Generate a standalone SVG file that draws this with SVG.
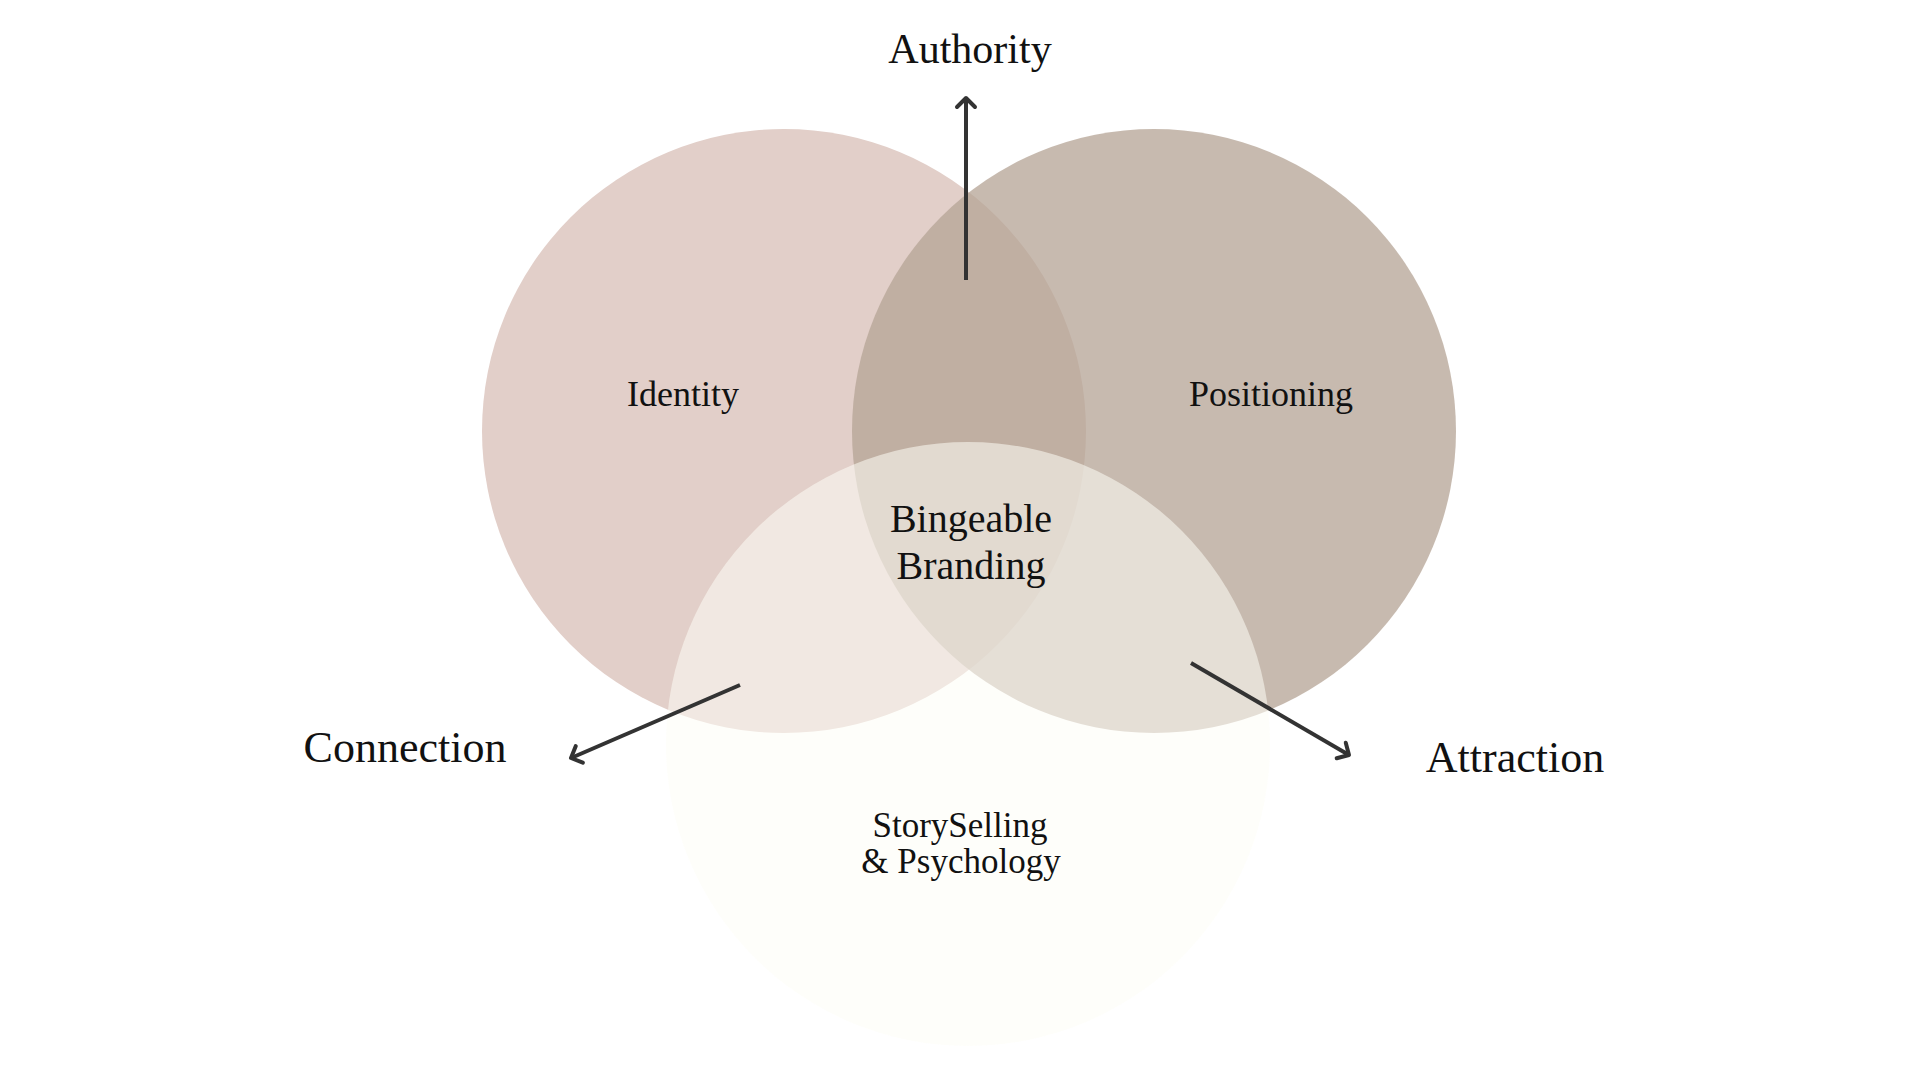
<svg xmlns="http://www.w3.org/2000/svg" width="1920" height="1080" viewBox="0 0 1920 1080">
<style>
.lbl{font-family:"Liberation Serif","DejaVu Serif",serif;fill:#111;text-anchor:middle}
.conn{stroke:#333;stroke-width:4;fill:none;stroke-linecap:butt}
</style>
<defs>
<marker id="arr" markerUnits="userSpaceOnUse" markerWidth="24" markerHeight="24" refX="12" refY="12" orient="auto" viewBox="0 0 24 24">
<polyline points="3,3 12,12 3,21" fill="none" stroke="#333" stroke-width="4" stroke-linecap="round" stroke-linejoin="round"/>
</marker>
</defs>
<rect width="1920" height="1080" fill="#fff"/>
<g id="identity">
<circle cx="784" cy="431" r="302" fill="#e2cfc9"/>
</g>
<g id="positioning">
<circle cx="1154" cy="431" r="302" fill="rgb(181,164,150)" fill-opacity="0.76"/>
</g>
<g id="storyselling">
<circle cx="968" cy="744" r="302" fill="rgb(253,253,246)" fill-opacity="0.55"/>
</g>
<g id="connectors">
<line class="conn" x1="966" y1="280" x2="966" y2="98" marker-end="url(#arr)"/>
<line class="conn" x1="740" y1="685" x2="571" y2="758" marker-end="url(#arr)"/>
<line class="conn" x1="1191" y1="663" x2="1349" y2="755" marker-end="url(#arr)"/>
</g>
<g id="labels">
<text class="lbl" x="683" y="406" font-size="36">Identity</text>
<text class="lbl" x="1271" y="406" font-size="36">Positioning</text>
<text class="lbl" x="971" y="532" font-size="40">Bingeable</text>
<text class="lbl" x="971" y="579" font-size="40">Branding</text>
<text class="lbl" font-size="35"><tspan x="960" y="837">StorySelling</tspan><tspan x="961" y="873">&amp; Psychology</tspan></text>
<text class="lbl" x="970" y="63" font-size="42">Authority</text>
<text class="lbl" x="405" y="762" font-size="44">Connection</text>
<text class="lbl" x="1515" y="772" font-size="44">Attraction</text>
</g>
</svg>
